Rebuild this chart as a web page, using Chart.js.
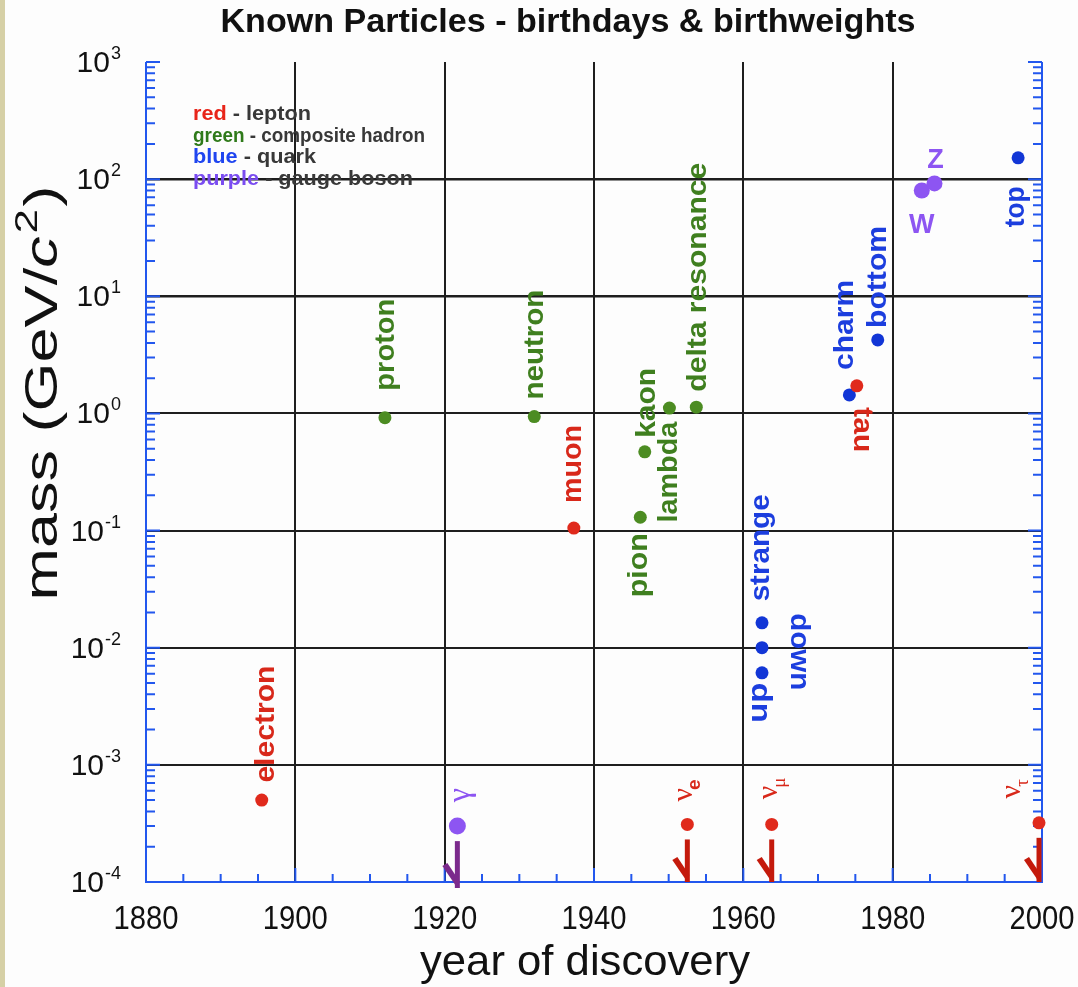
<!DOCTYPE html>
<html>
<head>
<meta charset="utf-8">
<script src="https://cdn.jsdelivr.net/npm/chart.js@4.4.0/dist/chart.umd.min.js"></script>
<style>
  html, body { margin: 0; padding: 0; background: #fdfdfd; }
  #chart { display: block; }
</style>
</head>
<body>
<canvas id="chart" width="1078" height="987"></canvas>
<script>
// ---- data ----
const leptonNames = ['electron', 'muon', 'tau', 'νe', 'νμ', 'ντ'];
const leptonYears = [1895.5, 1937.3, 1975.2, 1952.5, 1963.8, 1999.6];
const leptonMasses = [5.0e-4, 0.105, 1.72, 3.1e-4, 3.1e-4, 3.2e-4];
const leptonUpperLimit = [false, false, false, true, true, true];

const hadronNames = ['proton', 'neutron', 'pion', 'kaon', 'lambda', 'delta resonance'];
const hadronYears = [1912.0, 1932.0, 1946.2, 1946.8, 1950.1, 1953.7];
const hadronMasses = [0.92, 0.94, 0.13, 0.47, 1.11, 1.13];

const quarkNames = ['up', 'down', 'strange', 'charm', 'bottom', 'top'];
const quarkYears = [1962.5, 1962.5, 1962.5, 1974.2, 1978.0, 1996.8];
const quarkMasses = [0.0061, 0.010, 0.0163, 1.44, 4.24, 152];

const bosonNames = ['γ', 'W', 'Z'];
const bosonYears = [1921.7, 1983.9, 1985.6];
const bosonMasses = [3.0e-4, 80, 92];
const bosonUpperLimit = [true, false, false];

const yearTicks = [1880, 1900, 1920, 1940, 1960, 1980, 2000];
const massExponents = [-4, -3, -2, -1, 0, 1, 2, 3];

const colourWords = ['red', 'green', 'blue', 'purple'];
const familyKinds = ['lepton', 'composite hadron', 'quark', 'gauge boson'];

// ---- styling ----
const dotColours = ['#e02a1c', '#4c8c22', '#1236d6', '#8d55f2'];
const textColours = ['#d8281a', '#3f7f1f', '#1c3ede', '#8d55f2'];
const legendColours = ['#e8251a', '#2f7a1a', '#1f45f0', '#7a4cf0'];
const arrowColours = { lepton: '#c41a0c', 'gauge boson': '#7b2a8c' };
const axisBlue = '#2257ee';
const SANS = '"Liberation Sans", Arial, Helvetica, sans-serif';
const SERIF = '"Liberation Serif", "DejaVu Serif", serif';

// label centre offset from its dot, length along the text, rotation (-1 reads up, 1 reads down)
const labelPlacement = {
  electron: { dx: 2, dy: -76, len: 117, rot: -1 },
  muon: { dx: 0, dy: -64, len: 78, rot: -1 },
  tau: { dx: 7, dy: 44, len: 45, rot: 1 },
  proton: { dx: 3, dy: -73, len: 92, rot: -1 },
  neutron: { dx: -1, dy: -72, len: 110, rot: -1 },
  pion: { dx: 0, dy: 48, len: 64, rot: -1 },
  kaon: { dx: 0, dy: -49, len: 70, rot: -1 },
  lambda: { dx: -2, dy: 64, len: 101, rot: -1 },
  'delta resonance': { dx: 0, dy: -130, len: 229, rot: -1 },
  up: { dx: 0, dy: 30, len: 40, rot: -1 },
  down: { dx: 39, dy: 4, len: 77, rot: 1 },
  strange: { dx: 0, dy: -75, len: 107, rot: -1 },
  charm: { dx: -6, dy: -70, len: 90, rot: -1 },
  bottom: { dx: -2, dy: -63, len: 102, rot: -1 },
  top: { dx: -1, dy: 49, len: 41, rot: -1 },
  W: { dx: 0, dy: 33, rot: 0 },
  Z: { dx: 1, dy: -25, rot: 0 },
  'γ': { dx: 8, dy: -31, rot: -1 },
  'νe': { dx: -2, dy: -34, rot: -1 },
  'νμ': { dx: -2, dy: -36, rot: -1 },
  'ντ': { dx: -26, dy: -34, rot: -1 }
};
const bigDots = { 'γ': 8.5, W: 8, Z: 8 };

const families = [
  { names: leptonNames, years: leptonYears, masses: leptonMasses, limits: leptonUpperLimit },
  { names: hadronNames, years: hadronYears, masses: hadronMasses, limits: [] },
  { names: quarkNames, years: quarkYears, masses: quarkMasses, limits: [] },
  { names: bosonNames, years: bosonYears, masses: bosonMasses, limits: bosonUpperLimit }
];

const datasets = families.map((f, i) => ({
  label: familyKinds[i],
  data: f.years.map((yr, j) => ({ x: yr, y: f.masses[j] })),
  pointRadius: f.names.map(n => bigDots[n] || 6.5),
  pointBackgroundColor: dotColours[i],
  pointBorderWidth: 0,
  showLine: false,
  clip: false
}));

// draw a run of text pieces, centred on the glyph box of `centerOn`, stretched to `len`
function segText(c, segs, cx, cy, opts) {
  const o = Object.assign({ rot: 0, align: 'center', len: null }, opts);
  c.save();
  let w = 0;
  segs.forEach(s => { c.font = s.font; s.w = c.measureText(s.t).width; w += s.w + (s.dx || 0); });
  c.font = segs[0].font;
  const m = c.measureText(o.centerOn || segs.map(s => s.t).join(''));
  const off = (m.actualBoundingBoxAscent - m.actualBoundingBoxDescent) / 2;
  const sc = o.len ? o.len / w : 1;
  c.translate(cx, cy);
  c.rotate(o.rot * Math.PI / 2);
  c.scale(sc, 1);
  let x = o.align === 'right' ? -w : o.align === 'left' ? 0 : -w / 2;
  c.textAlign = 'left';
  c.textBaseline = 'alphabetic';
  segs.forEach(s => {
    c.font = s.font;
    c.fillStyle = s.color;
    c.fillText(s.t, x + (s.dx || 0), off - (s.rise || 0));
    x += s.w + (s.dx || 0);
  });
  c.restore();
}

const decor = {
  id: 'decor',
  beforeDraw(chart) {
    const c = chart.ctx;
    c.save();
    c.fillStyle = '#fdfdfd';
    c.fillRect(0, 0, chart.width, chart.height);
    c.fillStyle = '#d6d0a6';
    c.fillRect(0, 0, 5, chart.height);
    c.restore();
  },
  beforeDatasetsDraw(chart) {
    const c = chart.ctx;
    const a = chart.chartArea;
    const xs = chart.scales.x, ys = chart.scales.y;
    c.save();
    c.strokeStyle = axisBlue;
    c.lineWidth = 2;
    c.beginPath();
    c.moveTo(a.left, a.top); c.lineTo(a.left, a.bottom); c.lineTo(a.right, a.bottom); c.lineTo(a.right, a.top);
    c.stroke();
    // log ticks on both sides, pointing in
    c.beginPath();
    for (let e = -4; e <= 3; e++) {
      for (let k = 1; k <= 9; k++) {
        if (e === 3 && k > 1) break;
        const py = ys.getPixelForValue(k * Math.pow(10, e));
        const l = k === 1 ? 14 : 9;
        c.moveTo(a.left, py); c.lineTo(a.left + l, py);
        c.moveTo(a.right, py); c.lineTo(a.right - l, py);
      }
    }
    // year ticks every 5 years along the bottom
    for (let yr = 1880; yr <= 2000; yr += 5) {
      const px = xs.getPixelForValue(yr);
      const l = yr % 20 === 0 ? 14 : 8;
      c.moveTo(px, a.bottom); c.lineTo(px, a.bottom - l);
    }
    c.stroke();
    c.restore();
  },
  afterDatasetsDraw(chart) {
    const c = chart.ctx;
    const a = chart.chartArea;
    families.forEach((f, i) => {
      const meta = chart.getDatasetMeta(i);
      f.names.forEach((name, j) => {
        const pt = meta.data[j];
        // upper-limit marks under the dot
        if (f.limits[j]) {
          c.save();
          c.strokeStyle = arrowColours[familyKinds[i]];
          c.fillStyle = arrowColours[familyKinds[i]];
          c.lineWidth = 5;
          c.lineCap = 'butt';
          const bottom = a.bottom + (i === 3 ? 6 : 0);
          c.beginPath();
          c.moveTo(pt.x, pt.y + 15); c.lineTo(pt.x, bottom);
          c.stroke();
          c.beginPath();
          c.moveTo(pt.x - 15, bottom - 22);
          c.lineTo(pt.x - 10, bottom - 25);
          c.lineTo(pt.x + 2, bottom - 7);
          c.lineTo(pt.x, bottom);
          c.closePath();
          c.fill();
          c.restore();
        }
        const p = labelPlacement[name];
        if (!p) return;
        const cx = pt.x + p.dx, cy = pt.y + p.dy;
        const col = textColours[i];
        if (name.startsWith('ν')) {
          const sub = name.slice(1);
          const subFont = sub === 'e' ? 'bold 19px ' + SANS : '19px ' + SERIF;
          segText(c, [
            { t: 'ν', font: '30px ' + SERIF, color: col },
            { t: sub, font: subFont, color: col, rise: -8, dx: -2 }
          ], cx, cy, { rot: -1, centerOn: 'ν' });
        } else if (name === 'γ') {
          segText(c, [{ t: 'γ', font: '32px ' + SERIF, color: col }], cx, cy, { rot: -1 });
        } else {
          segText(c, [{ t: name, font: 'bold 27px ' + SANS, color: col }], cx, cy, { rot: p.rot, len: p.len });
        }
      });
    });
  },
  afterDraw(chart) {
    const c = chart.ctx;
    const xs = chart.scales.x, ys = chart.scales.y;
    // title
    segText(c, [{ t: 'Known Particles - birthdays & birthweights', font: 'bold 33px ' + SANS, color: '#111' }],
      568, 23, { len: 695 });
    // year labels
    yearTicks.forEach(yr => {
      segText(c, [{ t: String(yr), font: '33px ' + SANS, color: '#111' }], xs.getPixelForValue(yr), 917, { len: 65 });
    });
    // mass labels 10^n
    massExponents.forEach(e => {
      segText(c, [
        { t: '10', font: '30px ' + SANS, color: '#111' },
        { t: String(e), font: '18px ' + SANS, color: '#111', rise: 13, dx: 1 }
      ], 121, ys.getPixelForValue(Math.pow(10, e)), { align: 'right', centerOn: '10' });
    });
    // axis titles
    segText(c, [{ t: 'year of discovery', font: '42px ' + SANS, color: '#111' }], 585, 964, { len: 330 });
    segText(c, [
      { t: 'mass (GeV/', font: '46px ' + SANS, color: '#111' },
      { t: 'c', font: 'italic 46px ' + SANS, color: '#111' },
      { t: '2', font: '32px ' + SANS, color: '#111', rise: 20, dx: 2 },
      { t: ')', font: '46px ' + SANS, color: '#111', dx: 2 }
    ], 45, 393, { rot: -1, len: 415, centerOn: 'mass (GeV/c' });
    // colour key
    const keyY = [114, 136, 157, 179];
    const keyLen = [118, 232, 123, 220];
    colourWords.forEach((w, i) => {
      segText(c, [
        { t: w, font: 'bold 20px ' + SANS, color: legendColours[i] },
        { t: ' - ' + familyKinds[i], font: 'bold 20px ' + SANS, color: '#383838' }
      ], 193, keyY[i], { align: 'left', len: keyLen[i] });
    });
  }
};

new Chart(document.getElementById('chart').getContext('2d'), {
  type: 'scatter',
  data: { datasets },
  options: {
    responsive: false,
    animation: false,
    layout: { padding: { left: 146, right: 36, top: 62, bottom: 105 } },
    plugins: { legend: { display: false }, tooltip: { enabled: false } },
    scales: {
      x: {
        type: 'linear', min: 1880, max: 2000,
        ticks: { display: false, stepSize: 20 },
        grid: { color: '#1e1e1e', lineWidth: 2, drawTicks: false },
        border: { display: false }
      },
      y: {
        type: 'logarithmic', min: 1e-4, max: 1e3,
        ticks: { display: false },
        afterBuildTicks: s => { s.ticks = massExponents.map(e => ({ value: Math.pow(10, e) })); },
        grid: {
          color: ctx => (ctx.tick && ctx.tick.value >= 1000 ? 'rgba(0,0,0,0)' : '#1e1e1e'),
          lineWidth: ctx => (ctx.tick && (ctx.tick.value === 100 || ctx.tick.value === 10) ? 2.6 : 2),
          drawTicks: false
        },
        border: { display: false }
      }
    }
  },
  plugins: [decor]
});
</script>
</body>
</html>
